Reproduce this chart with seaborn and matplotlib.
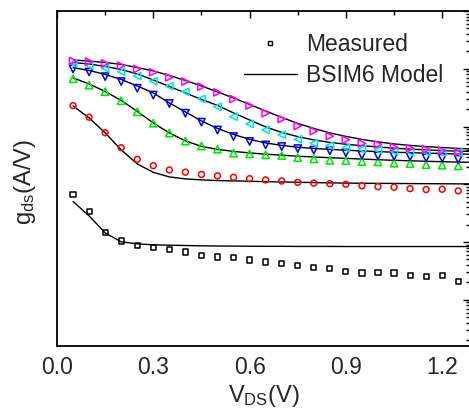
import numpy as np
import pandas as pd
import seaborn as sns
import matplotlib
matplotlib.use("Agg")
import matplotlib.pyplot as plt
from matplotlib.lines import Line2D
from matplotlib.ticker import LogLocator, NullFormatter, MultipleLocator

# Drain bias sweep (V)
vds_meas = [0.05, 0.10, 0.15, 0.20, 0.25, 0.30, 0.35, 0.40, 0.45, 0.50, 0.55, 0.60, 0.65,
            0.70, 0.75, 0.80, 0.85, 0.90, 0.95, 1.00, 1.05, 1.10, 1.15, 1.20, 1.25]
vds_model = vds_meas + [1.29]

# Measured output conductance (A/V), one array per gate bias, lowest first
gds_meas_1 = [6.6e-6, 3.4e-6, 1.48e-6, 1.04e-6, 8.8e-7, 8.0e-7, 7.4e-7, 6.7e-7, 5.8e-7, 5.5e-7,
              5.4e-7, 4.9e-7, 4.5e-7, 4.3e-7, 3.9e-7, 3.6e-7, 3.5e-7, 3.1e-7, 2.9e-7, 3.0e-7,
              2.9e-7, 2.6e-7, 2.5e-7, 2.6e-7, 2.1e-7]
gds_meas_2 = [2.3e-4, 1.45e-4, 7.8e-5, 4.3e-5, 2.7e-5, 2.1e-5, 1.77e-5, 1.62e-5, 1.48e-5, 1.4e-5,
              1.32e-5, 1.25e-5, 1.19e-5, 1.14e-5, 1.08e-5, 1.045e-5, 1.024e-5, 1.0e-5, 9.4e-6, 9.1e-6,
              8.9e-6, 8.4e-6, 8.1e-6, 8.2e-6, 7.7e-6]
gds_meas_3 = [6.7e-4, 5.2e-4, 4.0e-4, 2.8e-4, 1.8e-4, 1.14e-4, 7.7e-5, 5.6e-5, 4.6e-5, 4.05e-5,
              3.45e-5, 3.36e-5, 3.23e-5, 3.14e-5, 2.9e-5, 2.75e-5, 2.6e-5, 2.57e-5, 2.47e-5, 2.44e-5,
              2.32e-5, 2.28e-5, 2.19e-5, 2.14e-5, 2.08e-5]
gds_meas_4 = [9.9e-4, 8.8e-4, 7.3e-4, 6.0e-4, 4.6e-4, 3.5e-4, 2.5e-4, 1.7e-4, 1.19e-4, 8.7e-5,
              6.7e-5, 5.5e-5, 4.8e-5, 4.5e-5, 4.15e-5, 3.9e-5, 3.8e-5, 3.5e-5, 3.2e-5, 3.1e-5,
              3.06e-5, 3.0e-5, 2.86e-5, 2.83e-5, 2.7e-5]
gds_meas_5 = [1.24e-3, 1.15e-3, 1.02e-3, 8.9e-4, 7.5e-4, 6.1e-4, 5.0e-4, 4.0e-4, 3.0e-4, 2.2e-4,
              1.48e-4, 1.11e-4, 8.7e-5, 7.2e-5, 6.0e-5, 5.1e-5, 4.7e-5, 4.3e-5, 4.05e-5, 3.9e-5,
              3.7e-5, 3.6e-5, 3.6e-5, 3.55e-5, 3.55e-5]
gds_meas_6 = [1.36e-3, 1.33e-3, 1.24e-3, 1.13e-3, 9.9e-4, 8.7e-4, 7.1e-4, 6.0e-4, 4.9e-4, 3.9e-4,
              3.0e-4, 2.3e-4, 1.7e-4, 1.35e-4, 1.02e-4, 8.3e-5, 6.8e-5, 5.9e-5, 5.1e-5, 4.9e-5,
              4.4e-5, 4.2e-5, 4.0e-5, 3.8e-5, 3.6e-5]

# BSIM6 model output conductance (A/V)
gds_model_1 = [5.02e-6, 2.84e-6, 1.44e-6, 1.008e-6, 9.31e-7, 8.95e-7, 8.82e-7, 8.70e-7, 8.60e-7,
               8.53e-7, 8.50e-7, 8.46e-7, 8.43e-7, 8.43e-7, 8.39e-7, 8.39e-7, 8.39e-7, 8.36e-7,
               8.36e-7, 8.36e-7, 8.36e-7, 8.36e-7, 8.36e-7, 8.36e-7, 8.36e-7, 8.36e-7]
gds_model_2 = [2.27e-4, 1.41e-4, 7.75e-5, 3.94e-5, 2.25e-5, 1.61e-5, 1.34e-5, 1.24e-5, 1.19e-5,
               1.16e-5, 1.145e-5, 1.127e-5, 1.11e-5, 1.096e-5, 1.083e-5, 1.07e-5, 1.057e-5, 1.049e-5,
               1.041e-5, 1.037e-5, 1.033e-5, 1.028e-5, 1.024e-5, 1.02e-5, 1.016e-5, 1.016e-5]
gds_model_3 = [6.93e-4, 5.46e-4, 4.05e-4, 2.83e-4, 1.83e-4, 1.15e-4, 7.75e-5, 5.64e-5, 4.53e-5,
               4.02e-5, 3.71e-5, 3.49e-5, 3.32e-5, 3.19e-5, 3.06e-5, 2.97e-5, 2.88e-5, 2.81e-5,
               2.73e-5, 2.66e-5, 2.60e-5, 2.55e-5, 2.50e-5, 2.46e-5, 2.42e-5, 2.40e-5]
gds_model_4 = [1.045e-3, 9.35e-4, 7.96e-4, 6.53e-4, 5.04e-4, 3.81e-4, 2.56e-4, 1.79e-4, 1.25e-4,
               9.27e-5, 7.30e-5, 5.98e-5, 5.20e-5, 4.71e-5, 4.38e-5, 4.17e-5, 4.02e-5, 3.89e-5,
               3.78e-5, 3.68e-5, 3.59e-5, 3.52e-5, 3.47e-5, 3.40e-5, 3.34e-5, 3.32e-5]
gds_model_5 = [1.285e-3, 1.21e-3, 1.096e-3, 9.72e-4, 8.13e-4, 6.40e-4, 4.94e-4, 3.81e-4, 2.94e-4,
               2.32e-4, 1.72e-4, 1.30e-4, 9.84e-5, 7.91e-5, 6.69e-5, 5.86e-5, 5.31e-5, 4.94e-5,
               4.65e-5, 4.44e-5, 4.21e-5, 4.06e-5, 3.94e-5, 3.83e-5, 3.75e-5, 3.71e-5]
gds_model_6 = [1.42e-3, 1.36e-3, 1.285e-3, 1.19e-3, 1.05e-3, 9.16e-4, 7.66e-4, 6.27e-4, 5.04e-4,
               3.97e-4, 3.12e-4, 2.41e-4, 1.86e-4, 1.44e-4, 1.13e-4, 9.27e-5, 7.75e-5, 6.74e-5,
               5.98e-5, 5.41e-5, 5.00e-5, 4.71e-5, 4.49e-5, 4.32e-5, 4.17e-5, 4.10e-5]

marker_styles = ["s", "o", "^", "v", "<", ">"]
marker_colors = ["#000000", "#ff0000", "#00e600", "#0000ff", "#00e5ee", "#ff00ff"]
marker_sizes = [14, 18, 28, 28, 28, 28]
x_ticks = [0.0, 0.3, 0.6, 0.9, 1.2]

meas = [gds_meas_1, gds_meas_2, gds_meas_3, gds_meas_4, gds_meas_5, gds_meas_6]
model = [gds_model_1, gds_model_2, gds_model_3, gds_model_4, gds_model_5, gds_model_6]

sns.set_theme(style="white")
plt.rcParams["font.family"] = ["Liberation Sans", "DejaVu Sans"]
plt.rcParams["mathtext.fontset"] = "custom"
plt.rcParams["mathtext.rm"] = "Liberation Sans"
plt.rcParams["mathtext.it"] = "Liberation Sans:italic"

fig = plt.figure(figsize=(4.69, 4.16), dpi=100)
ax = fig.add_axes([57 / 469, 1 - 346 / 416, 413 / 469, 335 / 416])

model_df = pd.concat(
    [pd.DataFrame({"vds": vds_model, "gds": g, "curve": i}) for i, g in enumerate(model)],
    ignore_index=True)
meas_df = pd.concat(
    [pd.DataFrame({"vds": vds_meas, "gds": g, "curve": i}) for i, g in enumerate(meas)],
    ignore_index=True)

for i in range(len(model)):
    sns.lineplot(data=model_df[model_df.curve == i], x="vds", y="gds", color="black",
                 linewidth=1.0, estimator=None, sort=True, ax=ax, legend=False)

for i in range(len(meas)):
    sns.scatterplot(data=meas_df[meas_df.curve == i], x="vds", y="gds",
                    marker=marker_styles[i], s=marker_sizes[i], facecolor="none",
                    edgecolor=marker_colors[i], linewidth=1.1, ax=ax, legend=False,
                    zorder=3)

ax.set_yscale("log")
ax.set_ylim(10 ** -7.8, 1e-2)
ax.set_xlim(0, 1.2866)
ax.xaxis.set_major_locator(MultipleLocator(0.3))
ax.xaxis.set_minor_locator(MultipleLocator(0.15))
ax.set_xticks(x_ticks)
ax.set_xticklabels([f"{v:.1f}" for v in x_ticks])
ax.yaxis.set_major_locator(LogLocator(base=10, numticks=20))
ax.yaxis.set_minor_locator(LogLocator(base=10, subs=np.arange(2, 10), numticks=20))
ax.yaxis.set_major_formatter(NullFormatter())
ax.yaxis.set_minor_formatter(NullFormatter())

ax.tick_params(axis="both", which="both", direction="in", top=True, right=True,
               color="black", width=1.0)
ax.tick_params(axis="both", which="major", length=5)
ax.tick_params(axis="both", which="minor", length=3)
ax.tick_params(axis="x", which="major", labelsize=16.5, pad=7)

for sp in ax.spines.values():
    sp.set_color("black")
    sp.set_linewidth(1.3)

ax.set_xlabel(r"V$_{\rm DS}$(V)", fontsize=17, labelpad=3)
ax.set_ylabel(r"g$_{\rm ds}$(A/V)", fontsize=17)
ax.yaxis.set_label_coords(-0.045, 0.49)

handles = [
    Line2D([], [], marker="s", linestyle="none", markerfacecolor="none",
           markeredgecolor="black", markersize=3.3, markeredgewidth=1.0),
    Line2D([], [], color="black", linewidth=1.0),
]
ax.legend(handles, ["Measured", "BSIM6 Model"], loc="upper left",
          bbox_to_anchor=(244 / 469, 1 - 33 / 416), bbox_transform=fig.transFigure,
          frameon=False, fontsize=16.5, handlelength=2.3, handletextpad=0.4,
          labelspacing=0.35, borderpad=0, borderaxespad=0)

fig.savefig("out.png", dpi=100)
